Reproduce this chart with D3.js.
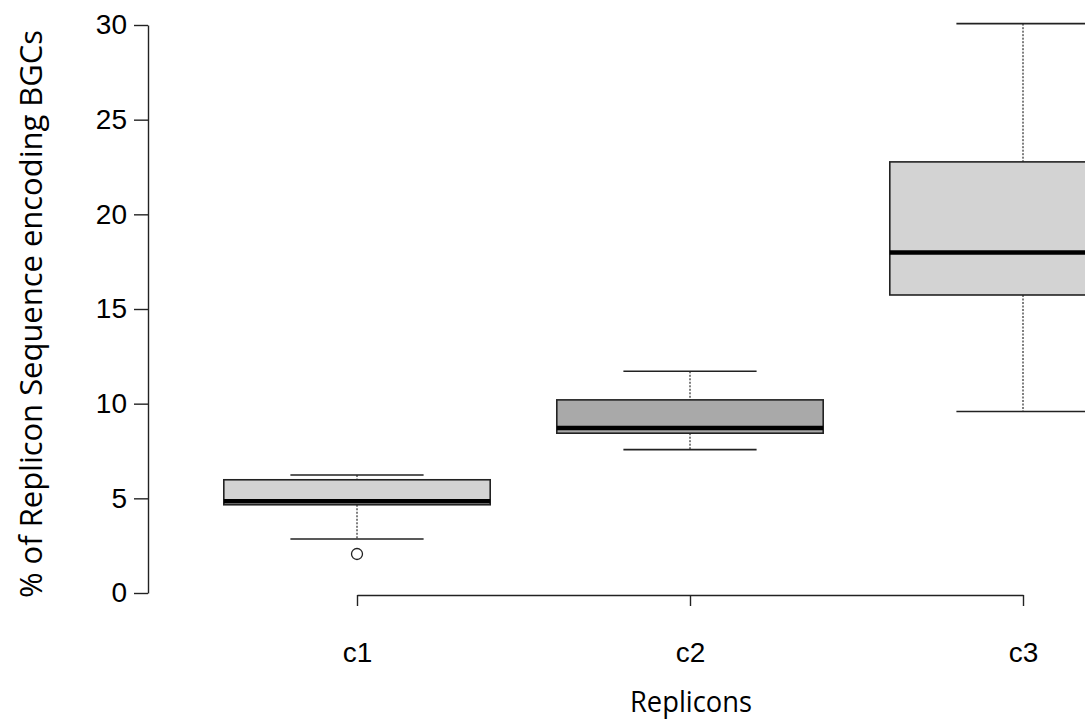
<!DOCTYPE html>
<html>
<head>
<meta charset="utf-8">
<script src="https://cdn.jsdelivr.net/npm/d3@7"></script>
<style>
  body { margin: 0; background: #fff; }
  svg { display: block; }
</style>
</head>
<body>
<div id="chart"></div>
<script>
'use strict';

// box statistics, one entry per replicon
var categories = ['c1', 'c2', 'c3'];
var lowerWhisker = [2.85, 7.57, 9.59];
var lowerQuartile = [4.66, 8.44, 15.74];
var medians = [4.84, 8.72, 17.99];
var upperQuartile = [5.98, 10.2, 22.77];
var upperWhisker = [6.23, 11.71, 30.07];
var outliers = [[2.06], [], []];
var yTicks = [0, 5, 10, 15, 20, 25, 30];
var boxFills = ['#d3d3d3', '#a9a9a9', '#d3d3d3'];

var width = 1085, height = 721;

var svg = d3.select('#chart').append('svg')
	.attr('width', width)
	.attr('height', height);

// categories sit at 1..n, like R's boxplot
var x = d3.scaleLinear().domain([1, 3]).range([357, 1023]);
var y = d3.scaleLinear().domain([0, 30]).range([593, 25]);

var boxHalf = x(1.4) - x(1),
	stapleHalf = boxHalf / 2;

var boxes = categories.map(function (c, i) {
	return {
		name: c,
		pos: i + 1,
		lo: lowerWhisker[i],
		q1: lowerQuartile[i],
		med: medians[i],
		q3: upperQuartile[i],
		hi: upperWhisker[i],
		out: outliers[i],
		fill: boxFills[i]
	};
});

var g = svg.selectAll('g.box')
	.data(boxes)
	.enter().append('g')
	.attr('class', 'box');

// dashed whiskers
g.append('line')
	.attr('x1', function (d) { return x(d.pos); })
	.attr('x2', function (d) { return x(d.pos); })
	.attr('y1', function (d) { return y(d.hi); })
	.attr('y2', function (d) { return y(d.q3); })
	.attr('stroke', '#000')
	.attr('stroke-width', 1)
	.attr('stroke-dasharray', '2,1.5');
g.append('line')
	.attr('x1', function (d) { return x(d.pos); })
	.attr('x2', function (d) { return x(d.pos); })
	.attr('y1', function (d) { return y(d.q1); })
	.attr('y2', function (d) { return y(d.lo); })
	.attr('stroke', '#000')
	.attr('stroke-width', 1)
	.attr('stroke-dasharray', '2,1.5');

// staples
['hi', 'lo'].forEach(function (k) {
	g.append('line')
		.attr('x1', function (d) { return x(d.pos) - stapleHalf; })
		.attr('x2', function (d) { return x(d.pos) + stapleHalf; })
		.attr('y1', function (d) { return y(d[k]); })
		.attr('y2', function (d) { return y(d[k]); })
		.attr('stroke', '#222')
		.attr('stroke-width', 1.6);
});

// the box
g.append('rect')
	.attr('x', function (d) { return x(d.pos) - boxHalf; })
	.attr('width', boxHalf * 2)
	.attr('y', function (d) { return y(d.q3); })
	.attr('height', function (d) { return y(d.q1) - y(d.q3); })
	.attr('fill', function (d) { return d.fill; })
	.attr('stroke', '#222')
	.attr('stroke-width', 1.6);

// median
g.append('line')
	.attr('x1', function (d) { return x(d.pos) - boxHalf; })
	.attr('x2', function (d) { return x(d.pos) + boxHalf; })
	.attr('y1', function (d) { return y(d.med); })
	.attr('y2', function (d) { return y(d.med); })
	.attr('stroke', '#000')
	.attr('stroke-width', 4.5);

// outliers
g.selectAll('circle')
	.data(function (d) { return d.out.map(function (v) { return {pos: d.pos, v: v}; }); })
	.enter().append('circle')
	.attr('cx', function (d) { return x(d.pos); })
	.attr('cy', function (d) { return y(d.v); })
	.attr('r', 5.5)
	.attr('fill', 'none')
	.attr('stroke', '#222')
	.attr('stroke-width', 1.3);

// axes
var yAxis = d3.axisLeft(y)
	.tickValues(yTicks)
	.tickSize(14)
	.tickSizeOuter(0)
	.tickPadding(7);
var ya = svg.append('g')
	.attr('transform', 'translate(148,0)')
	.call(yAxis);

var xAxis = d3.axisBottom(x)
	.tickValues([1, 2, 3])
	.tickFormat(function (d) { return categories[d - 1]; })
	.tickSize(11)
	.tickSizeOuter(0)
	.tickPadding(36);
var xa = svg.append('g')
	.attr('transform', 'translate(0,595)')
	.call(xAxis);

[ya, xa].forEach(function (a) {
	a.selectAll('path.domain').attr('stroke', '#222').attr('stroke-width', 1.4);
	a.selectAll('.tick line').attr('stroke', '#222').attr('stroke-width', 1.4);
	a.selectAll('.tick text')
		.attr('fill', '#000')
		.style('font-family', '"Liberation Sans", Arial, sans-serif')
		.style('font-size', '28px');
});

// axis titles
svg.append('text')
	.attr('transform', 'translate(42,314) rotate(-90)')
	.attr('text-anchor', 'middle')
	.attr('textLength', 568)
	.attr('lengthAdjust', 'spacingAndGlyphs')
	.style('font-family', '"Open Sans", sans-serif')
	.style('font-size', '31px')
	.text('% of Replicon Sequence encoding BGCs');

svg.append('text')
	.attr('x', 691)
	.attr('y', 712)
	.attr('text-anchor', 'middle')
	.attr('textLength', 122)
	.attr('lengthAdjust', 'spacingAndGlyphs')
	.style('font-family', '"Open Sans", sans-serif')
	.style('font-size', '30px')
	.text('Replicons');
</script>
</body>
</html>
